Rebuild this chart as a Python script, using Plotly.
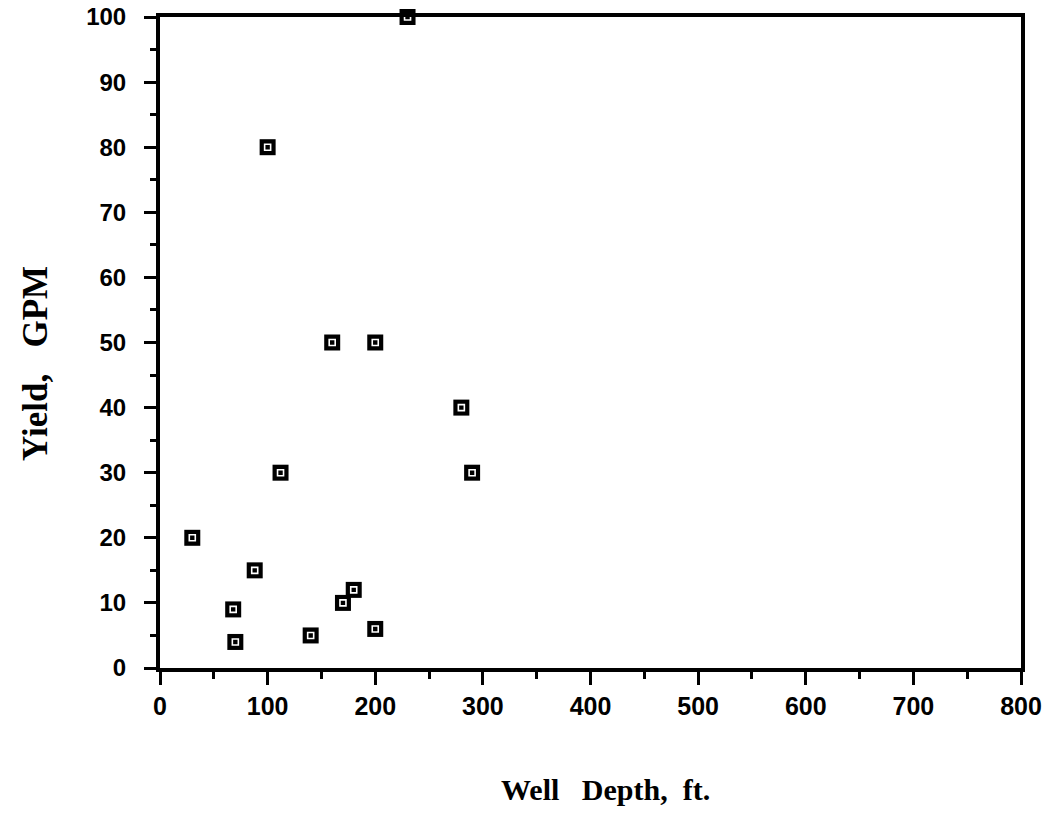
import plotly.graph_objects as go

depth_ft = [230, 100, 160, 200, 280, 112, 290, 30, 88, 68, 70, 140, 170, 180, 200]
yield_gpm = [100, 80, 50, 50, 40, 30, 30, 20, 15, 9, 4, 5, 10, 12, 6]
x_ticks = [0, 100, 200, 300, 400, 500, 600, 700, 800]
y_ticks = [0, 10, 20, 30, 40, 50, 60, 70, 80, 90, 100]

fig = go.Figure()
fig.add_trace(go.Scatter(
    x=depth_ft, y=yield_gpm, mode="markers", cliponaxis=False,
    marker=dict(symbol="square", size=16, color="black"),
    showlegend=False, hoverinfo="skip"))
fig.add_trace(go.Scatter(
    x=depth_ft, y=yield_gpm, mode="markers", cliponaxis=False,
    marker=dict(symbol="square-open", size=6, color="white", line=dict(width=1.6, color="white")),
    showlegend=False, hoverinfo="skip"))

sans = "Liberation Sans, Arial, sans-serif"
serif = "Liberation Serif, Times New Roman, serif"
fig.update_layout(
    width=1051, height=815,
    margin=dict(l=160, r=30, t=17, b=147),
    paper_bgcolor="white", plot_bgcolor="white",
    xaxis=dict(range=[0, 800], tickvals=x_ticks, ticktext=[f"<b>{v}</b>" for v in x_ticks],
               automargin=False,
               showgrid=False, zeroline=False, showline=True, linewidth=4, linecolor="black",
               mirror=True, ticks="outside", ticklen=13, tickwidth=3, tickcolor="black",
               tickfont=dict(family=sans, size=25, color="black"), ticklabelstandoff=0,
               minor=dict(dtick=50, tick0=0, ticks="outside", ticklen=7, tickwidth=3, tickcolor="black")),
    yaxis=dict(range=[0, 100], tickvals=y_ticks, ticktext=[f"<b>{v}</b>" for v in y_ticks],
               automargin=False,
               showgrid=False, zeroline=False, showline=True, linewidth=4, linecolor="black",
               mirror=True, ticks="outside", ticklen=12, tickwidth=3, tickcolor="black",
               tickfont=dict(family=sans, size=24, color="black"), ticklabelstandoff=13,
               minor=dict(dtick=5, tick0=0, ticks="outside", ticklen=6, tickwidth=3, tickcolor="black")),
    annotations=[
        dict(text="<b>Well   Depth,  ft.</b>", xref="paper", yref="paper", x=0.518, y=-0.186,
             xanchor="center", yanchor="middle", showarrow=False,
             font=dict(family=serif, size=30, color="black")),
        dict(text="<b>Yield,   GPM</b>", xref="paper", yref="paper", x=-0.144, y=0.467,
             xanchor="center", yanchor="middle", showarrow=False, textangle=-90,
             font=dict(family=serif, size=35, color="black")),
    ],
)
fig.write_html("out.html", config={"displayModeBar": False},
               post_script="document.body.style.margin='0';document.body.style.overflow='hidden';")
